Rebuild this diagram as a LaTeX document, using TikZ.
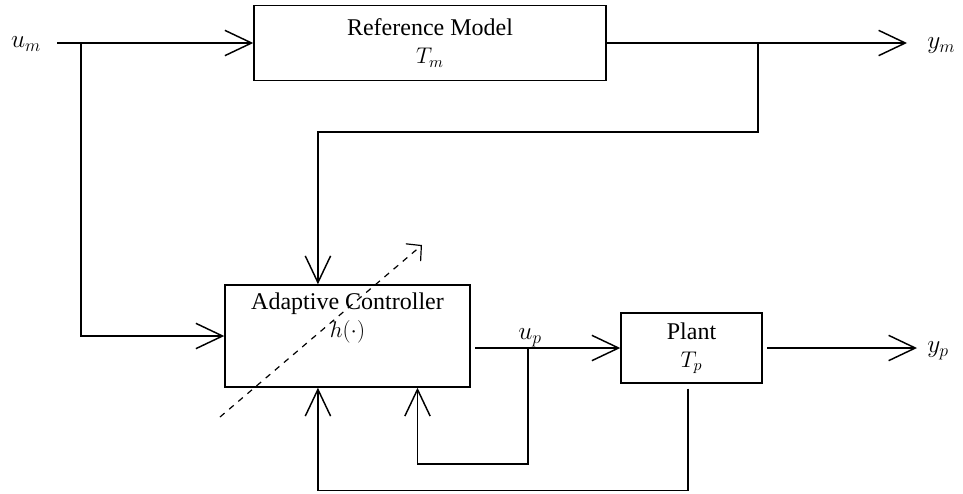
\documentclass[tikz,border=0pt]{standalone}
\usepackage{fix-cm}
\usepackage{fontspec}
\setmainfont{Liberation Serif}
\usetikzlibrary{arrows.meta,positioning,calc}

\tikzset{
	block/.style={draw, line width=1.1pt, align=center, font=\fontsize{18}{21}\selectfont},
	wire/.style={line width=1.1pt},
	sig/.style={wire, -{Straight Barb[length=20pt,width=19pt]}},
	lab/.style={font=\fontsize{19}{22}\selectfont, inner sep=0pt},
}
\newcommand{\sym}[1]{{\fontsize{17}{20}\selectfont$#1$}}

\begin{document}
\begin{tikzpicture}[x=0.75pt,y=-0.75pt]
	\useasboundingbox (0,0) rectangle (963,493);
	
	% Blocks
	\node[block, minimum width=264pt, minimum height=56.25pt] (ref) at (430,43) {Reference Model\\\sym{T_m}};
	\node[block, minimum width=183.75pt, minimum height=76.5pt] (ctrl) at (347.5,336) {};
	\node[font=\fontsize{18}{21}\selectfont, align=center, anchor=north, inner sep=6pt] (ctrltxt) at (ctrl.north) {Adaptive Controller\\\sym{h(\cdot)}};
	\node[block, minimum width=105.75pt, minimum height=52.5pt] (plant) at (691.5,348) {Plant\\\sym{T_p}};
	
	% Signal labels
	\node[lab] (um) at (26,44) {$u_m$};
	\node[lab, anchor=west] (ym) at (927,46) {$y_m$};
	\node[lab, anchor=west] (yp) at (927,351) {$y_p$};
	\node[lab, anchor=south, inner sep=2pt] (up) at (530,350) {$u_p$};
	
	% Points
	\coordinate (in) at (57,43);
	\coordinate (j1) at (81,43);
	\coordinate (j2) at (758,43);
	\coordinate (ymtip) at (907,43);
	\coordinate (cout) at (475,348);
	\coordinate (j3) at (528,348);
	\coordinate (pout) at (767,348);
	\coordinate (yptip) at (917,348);
	\coordinate (pfb) at ($(plant.south)+(-3.5,5)$);
	
	% Reference path
	\draw[sig] (in) -- (ref.west);
	\draw[sig] (ref.east) -- (ymtip);
	\draw[sig] (j1) |- (ctrl.west);
	\draw[sig] (j2) -- ++(0,89) -| ($(ctrl.north west)!0.38!(ctrl.north east)$);
	
	% Plant path
	\draw[sig] (cout) -- (plant.west);
	\draw[sig] (pout) -- (yptip);
	\draw[sig] (j3) -- ++(0,116) -| ($(ctrl.south west)!0.784!(ctrl.south east)$);
	\draw[sig] (pfb) -- ++(0,102) -| ($(ctrl.south west)!0.38!(ctrl.south east)$);
	
	% Adjustable gain
	\draw[wire, line width=0.9pt, dash pattern=on 4.5pt off 4.5pt, -{Straight Barb[length=8pt,width=17pt]}] (220,417) -- (422,245);
\end{tikzpicture}
\end{document}
